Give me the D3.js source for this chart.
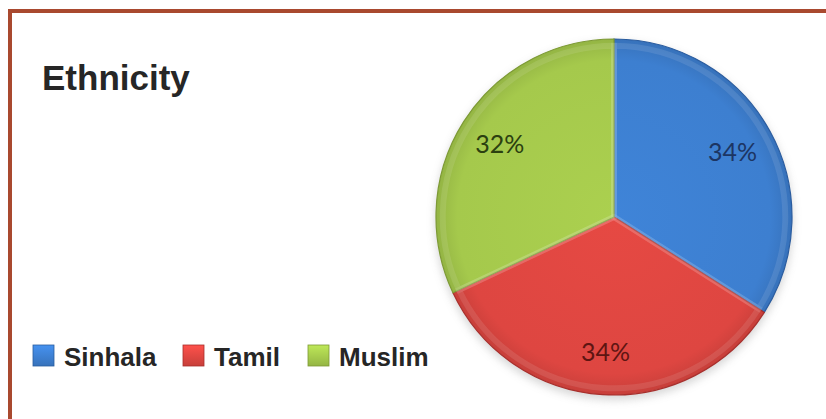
<!DOCTYPE html>
<html>
<head>
<meta charset="utf-8">
<script src="https://cdn.jsdelivr.net/npm/d3@7"></script>
<style>
  html, body { margin: 0; padding: 0; background: #fff; }
</style>
</head>
<body>
<script>
const categories = ['Sinhala', 'Tamil', 'Muslim'];
const values = [34, 34, 32];
const labels = ['34%', '34%', '32%'];

const width = 826;
const height = 419;

const svg = d3.select('body')
  .append('svg')
  .attr('width', width)
  .attr('height', height)
  .style('display', 'block');

const color = d3.scaleOrdinal()
  .domain(categories)
  .range(['#3d7fd0', '#de4641', '#a5c94c']);
const edge = d3.scaleOrdinal()
  .domain(categories)
  .range(['#2a5c9f', '#a82f2c', '#7d9a35']);
const textColor = d3.scaleOrdinal()
  .domain(categories)
  .range(['#1c3563', '#5e1512', '#2b3f10']);

const cx = 614;
const cy = 217;
const radius = 178;

const defs = svg.append('defs');

categories.forEach((c, i) => {
  const g = defs.append('radialGradient')
    .attr('id', 'grad' + i)
    .attr('gradientUnits', 'userSpaceOnUse')
    .attr('cx', 0).attr('cy', 0).attr('r', radius);
  g.append('stop').attr('offset', '0%').attr('stop-color', d3.color(color(c)).brighter(0.1));
  g.append('stop').attr('offset', '88%').attr('stop-color', color(c));
  g.append('stop').attr('offset', '100%').attr('stop-color', d3.color(color(c)).darker(0.3));

  const lg = defs.append('linearGradient')
    .attr('id', 'lgrad' + i)
    .attr('x1', 0).attr('y1', 0).attr('x2', 0).attr('y2', 1);
  lg.append('stop').attr('offset', '0%').attr('stop-color', d3.color(color(c)).brighter(0.4));
  lg.append('stop').attr('offset', '100%').attr('stop-color', d3.color(color(c)).darker(0.3));
});

defs.append('filter')
  .attr('id', 'shadow')
  .attr('x', '-20%').attr('y', '-20%').attr('width', '140%').attr('height', '140%')
  .append('feGaussianBlur')
  .attr('stdDeviation', 4);

// frame (only top and left edges visible)
svg.append('rect')
  .attr('x', 10)
  .attr('y', 11)
  .attr('width', 900)
  .attr('height', 600)
  .attr('fill', 'none')
  .attr('stroke', '#a9492f')
  .attr('stroke-width', 4);

svg.append('text')
  .attr('x', 42)
  .attr('y', 90)
  .attr('font-family', 'Liberation Sans, Arial, sans-serif')
  .attr('font-weight', 'bold')
  .attr('font-size', 35)
  .attr('fill', '#262626')
  .text('Ethnicity');

const pie = d3.pie().sort(null).value((d) => d.value);
const arcs = pie(categories.map((c, i) => ({ name: c, value: values[i], label: labels[i], i })));

const arc = d3.arc().innerRadius(0).outerRadius(radius);
const labelArc = d3.arc().innerRadius(radius * 0.76).outerRadius(radius * 0.76);

const pieG = svg.append('g').attr('transform', `translate(${cx},${cy})`);

pieG.append('ellipse')
  .attr('cx', 0)
  .attr('cy', 4)
  .attr('rx', radius + 1)
  .attr('ry', radius + 1)
  .attr('fill', '#9a9a9a')
  .attr('opacity', 0.4)
  .attr('filter', 'url(#shadow)');

pieG.selectAll('path.slice')
  .data(arcs)
  .join('path')
  .attr('class', 'slice')
  .attr('d', arc)
  .attr('fill', (d) => `url(#grad${d.data.i})`)
  .attr('stroke', (d) => edge(d.data.name))
  .attr('stroke-width', 1.2);

// soft bevel highlight along slice edges
pieG.selectAll('path.bevel')
  .data(arcs)
  .join('path')
  .attr('class', 'bevel')
  .attr('d', d3.arc().innerRadius(0).outerRadius(radius - 5))
  .attr('fill', 'none')
  .attr('stroke', '#ffffff')
  .attr('stroke-opacity', 0.1)
  .attr('stroke-width', 6)
  .attr('transform', 'scale(0.99)');

pieG.selectAll('text.lbl')
  .data(arcs)
  .join('text')
  .attr('class', 'lbl')
  .attr('transform', (d) => {
    const [x, y] = labelArc.centroid(d);
    return `translate(${x},${y})`;
  })
  .attr('text-anchor', 'middle')
  .attr('dy', '0.35em')
  .attr('font-family', 'Lato, Open Sans, sans-serif')
  .attr('font-size', 25)
  .attr('fill', (d) => textColor(d.data.name))
  .text((d) => d.data.label);

// legend
const legendX = [33, 183, 308];
const legend = svg.append('g')
  .selectAll('g')
  .data(categories)
  .join('g')
  .attr('transform', (d, i) => `translate(${legendX[i]},345)`);

legend.append('rect')
  .attr('width', 21)
  .attr('height', 21)
  .attr('fill', (d, i) => `url(#lgrad${i})`)
  .attr('stroke', (d) => edge(d))
  .attr('stroke-width', 0.8);

legend.append('text')
  .attr('x', 31)
  .attr('y', 21)
  .attr('font-family', 'Liberation Sans, Arial, sans-serif')
  .attr('font-weight', 'bold')
  .attr('font-size', 26)
  .attr('fill', '#262626')
  .text((d) => d);
</script>
</body>
</html>
